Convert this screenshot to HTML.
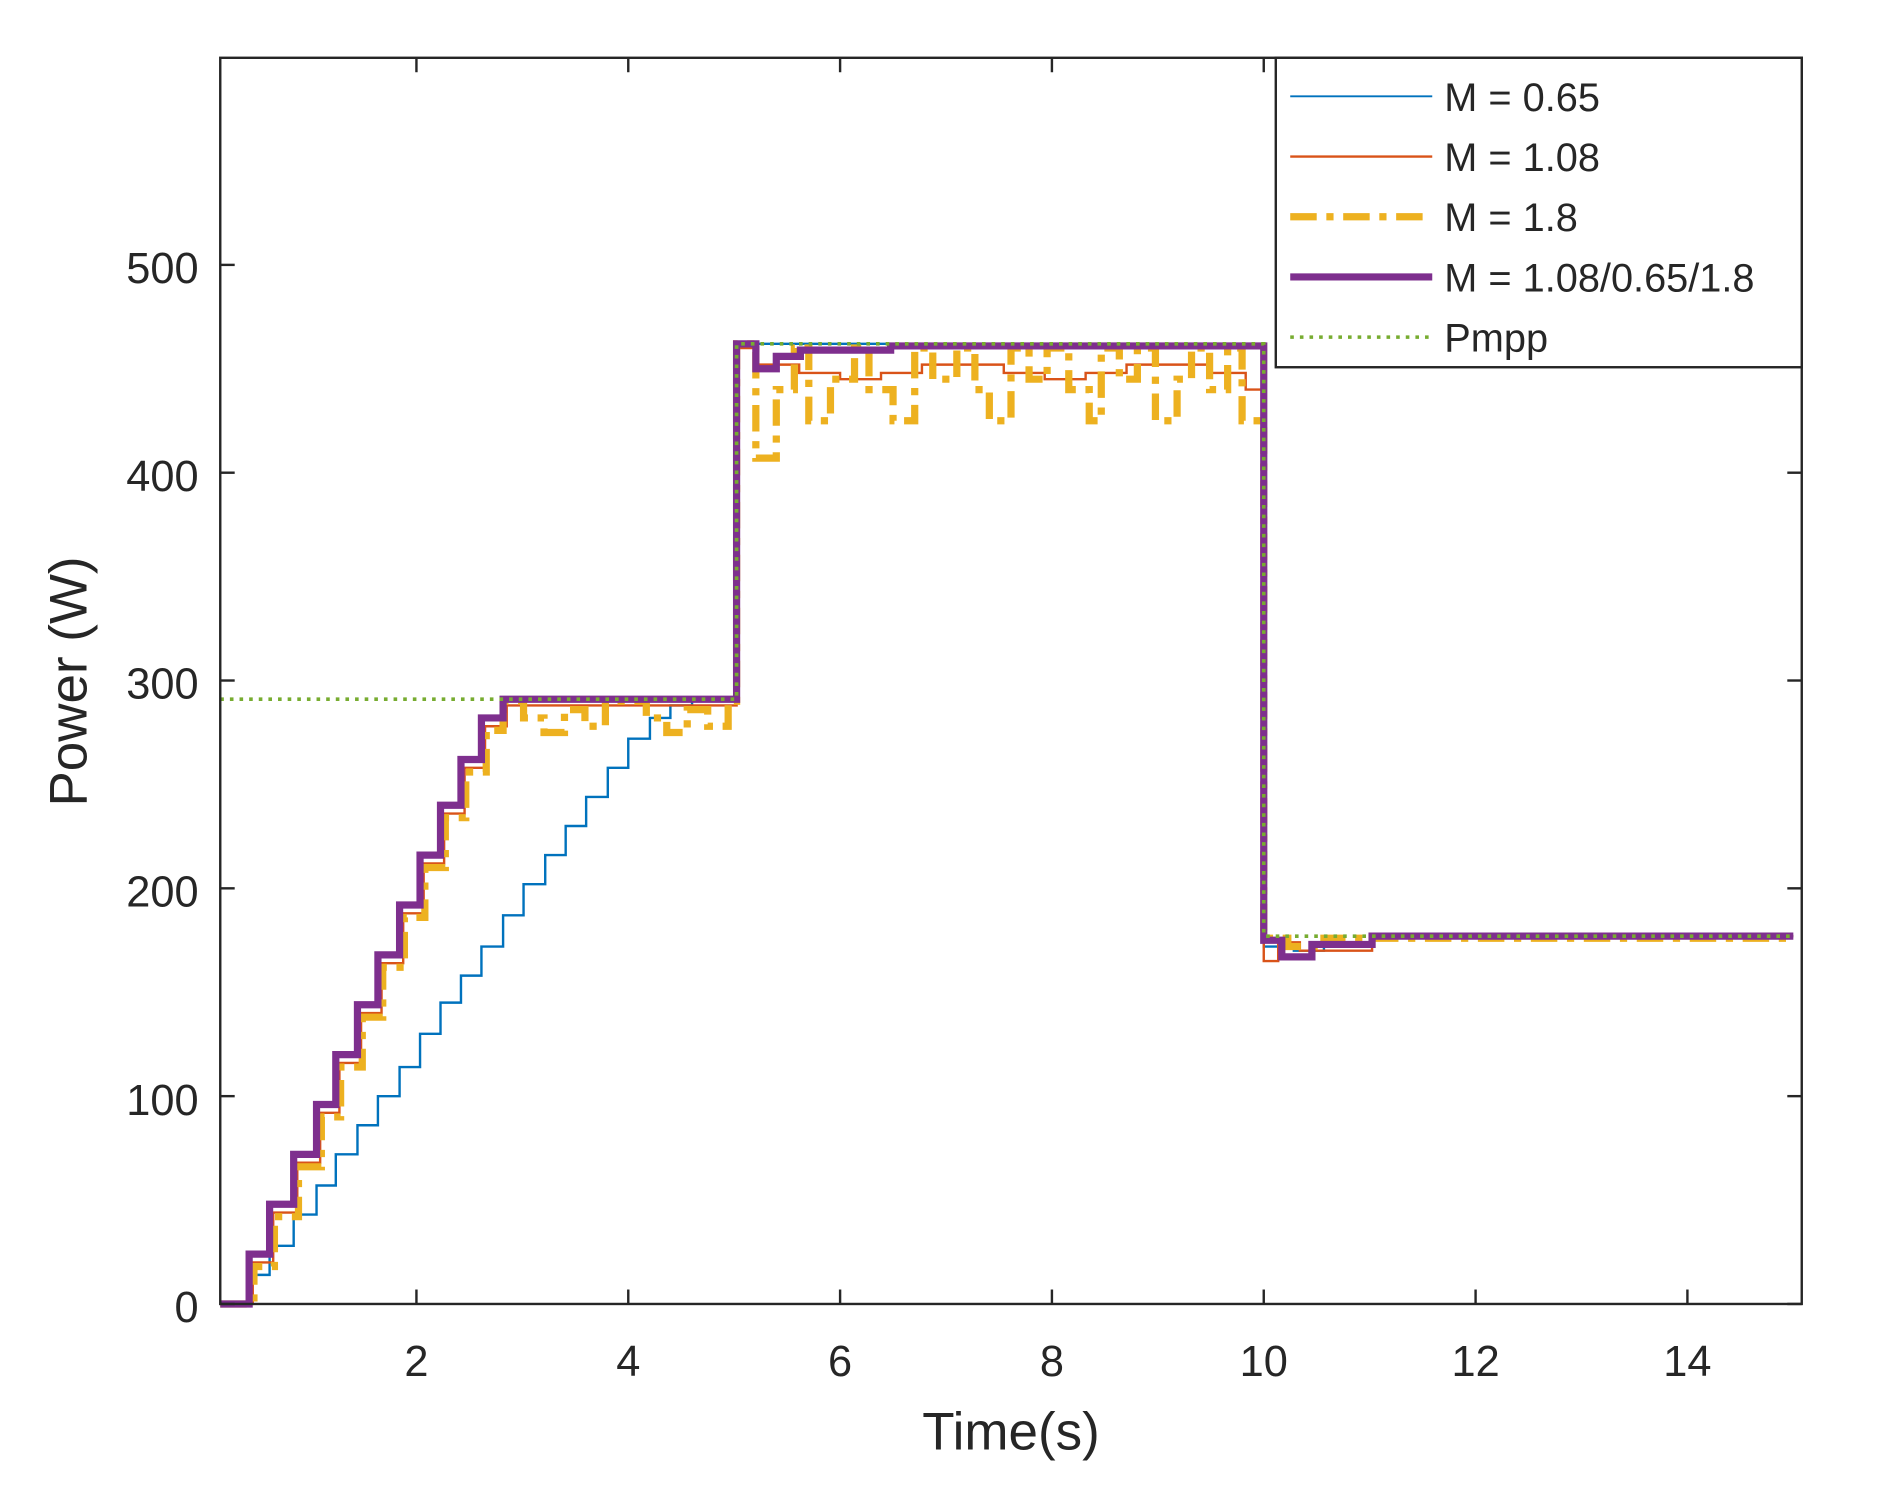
<!DOCTYPE html>
<html><head><meta charset="utf-8"><style>
html,body{margin:0;padding:0;background:#fff}
svg{display:block}
text{font-family:"Liberation Sans",Arial,sans-serif;fill:#262626}
</style></head><body>
<svg id="s" width="1886" height="1493" viewBox="0 0 1567 1240" preserveAspectRatio="none" xmlns="http://www.w3.org/2000/svg">
<rect x="0" y="0" width="1567" height="1240" fill="#fff"/>
<g id="plot"></g>
<rect x="183" y="48" width="1314" height="1035" fill="none" stroke="#262626" stroke-width="2"/>
<g id="ticks" stroke="#262626" stroke-width="2"></g>
<g font-size="36" text-anchor="end">
<text x="165" y="1098">0</text><text x="165" y="926">100</text><text x="165" y="753">200</text>
<text x="165" y="580">300</text><text x="165" y="408">400</text><text x="165" y="235">500</text>
</g>
<g font-size="36" text-anchor="middle">
<text x="346" y="1143">2</text><text x="522" y="1143">4</text><text x="698" y="1143">6</text>
<text x="874" y="1143">8</text><text x="1050" y="1143">10</text><text x="1226" y="1143">12</text><text x="1402" y="1143">14</text>
</g>
<text x="840" y="1204" font-size="44" text-anchor="middle">Time(s)</text>
<text transform="translate(72,566) rotate(-90)" font-size="44" text-anchor="middle">Power (W)</text>
<rect x="1060" y="48" width="437" height="257" fill="#fff" stroke="#262626" stroke-width="2"/>
<line x1="1072" y1="80" x2="1190" y2="80" stroke="#0072BD" stroke-width="1.5"/>
<line x1="1072" y1="130" x2="1190" y2="130" stroke="#D95319" stroke-width="2"/>
<line x1="1072" y1="180" x2="1190" y2="180" stroke="#EDB120" stroke-width="6" stroke-dasharray="22,8,6,8"/>
<line x1="1072" y1="230" x2="1190" y2="230" stroke="#7E2F8E" stroke-width="6"/>
<line x1="1072" y1="280" x2="1190" y2="280" stroke="#77AC30" stroke-width="3" stroke-dasharray="3,5"/>
<g font-size="33">
<text x="1200" y="92">M = 0.65</text><text x="1200" y="142">M = 1.08</text><text x="1200" y="192">M = 1.8</text>
<text x="1200" y="242">M = 1.08/0.65/1.8</text><text x="1200" y="292">Pmpp</text>
</g>
</svg>
<script>
var Y=function(p){return 1083-1.726*p};
function step(pts){var d="M"+pts[0][0]+","+Y(pts[0][1]);for(var i=1;i<pts.length;i++){d+=" H"+pts[i][0]+" V"+Y(pts[i][1]);}return d;}
function path(d,col,w,dash){return '<path d="'+d+'" fill="none" stroke="'+col+'" stroke-width="'+w+'"'+(dash?' stroke-dasharray="'+dash+'"':'')+'/>';}
var xs=[207,224,244,263,279,297,314,332,349,366,383,400,418,435,453,470,487,505,522,540,557,575,592];
var b=[[183,0],[207,14]];var bv=[28,43,57,72,86,100,114,130,145,158,172,187,202,216,230,244,258,272,282,288,290];
for(var i=1;i<xs.length-1&&i-1<bv.length;i++)b.push([xs[i],bv[i-1]]);
b.push([612,462],[1050,172],[1075,170],[1100,174],[1140,177],[1490,177]);
var pv=[24,48,72,96,120,144,168,192,216,240,262,282,291];
var pu=[[183,0]];for(var i=0;i<pv.length;i++)pu.push([xs[i],pv[i]]);
pu.push([612,462],[628,450],[645,456],[665,459],[740,461],[1050,175],[1065,167],[1090,173],[1140,177],[1490,177]);
var ov=[20,44,68,92,116,140,164,188,212,236,258,278,288];
var o=[[183,0]];for(var i=0;i<ov.length;i++)o.push([xs[i]+3,ov[i]]);
o.push([612,460]);var oc=[452,448,445,448,452];for(var x=630,k=0;x<1035;x+=34,k++)o.push([x,oc[k%5]]);
o.push([1035,440],[1050,165],[1062,174],[1080,170],[1140,177],[1490,177]);
var y=[[183,0]];for(var i=0;i<ov.length-1;i++)y.push([xs[i]+4,ov[i]-2]);
var yc=[290,282,275,286,278,290];for(var x=418,k=0;x<612;x+=17,k++)y.push([x,yc[k%6]]);
y.push([612,462],[628,407],[645,440],[660,460],[672,425],[690,445],[710,460],[722,440],[742,425],[760,460],[775,445],[795,460],[810,440],[822,425],[840,460],[855,445],[870,460],[888,440],[905,425],[915,460],[930,445],[945,460],[960,425],[978,445],[990,460],[1005,440],[1020,460],[1032,425],[1050,176],[1070,172],[1100,176],[1490,177]);
var g=[[183,291],[612,462],[1050,177],[1490,177]];
var h='';
h+=path(step(b),"#0072BD",2);
h+=path(step(o),"#D95319",2);
h+=path(step(y),"#EDB120",6,"22,8,6,8");
h+=path(step(pu),"#7E2F8E",6);
h+=path(step(g),"#77AC30",3,"3,5");
document.getElementById("plot").innerHTML=h;
var t='';
[0,100,200,300,400,500].forEach(function(p){var yy=Y(p);t+='<line x1="183" y1="'+yy+'" x2="195" y2="'+yy+'"/><line x1="1485" y1="'+yy+'" x2="1497" y2="'+yy+'"/>';});
[2,4,6,8,10,12,14].forEach(function(v){var xx=170+88*v;t+='<line x1="'+xx+'" y1="1083" x2="'+xx+'" y2="1071"/><line x1="'+xx+'" y1="48" x2="'+xx+'" y2="60"/>';});
document.getElementById("ticks").innerHTML=t;
</script>
</body></html>
